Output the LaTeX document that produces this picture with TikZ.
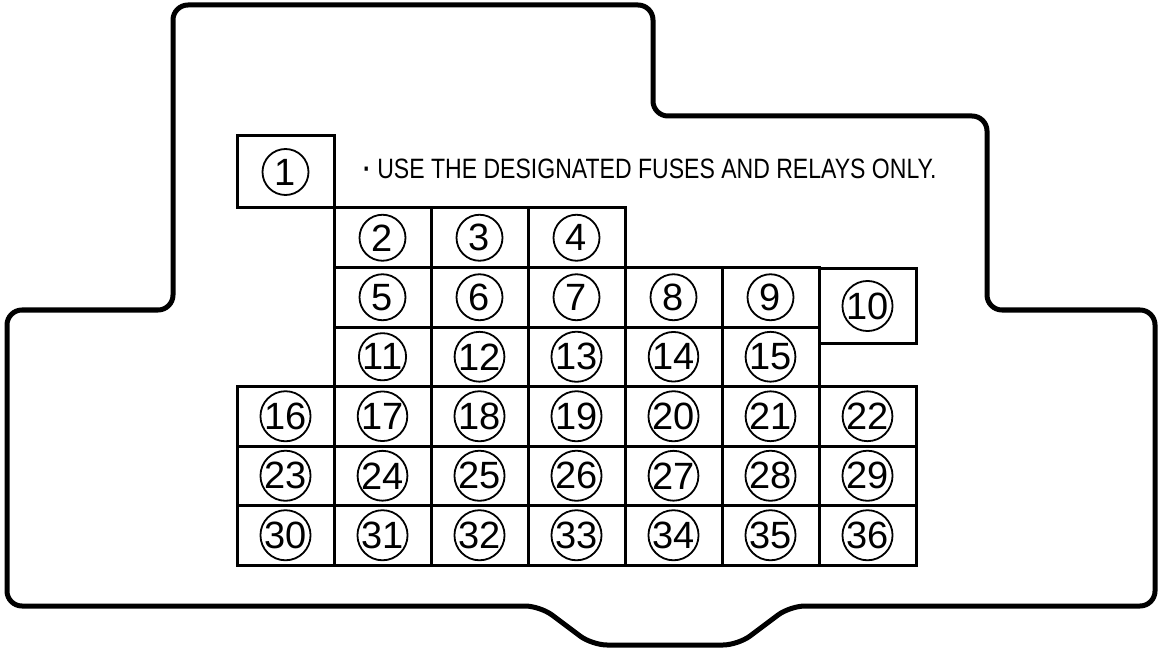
\documentclass[tikz,border=0pt]{standalone}
\usepackage{fontspec}
\usepackage{graphicx}
\setmainfont{Liberation Sans}
\begin{document}
\begin{tikzpicture}[x=1pt,y=-1pt,
  cell/.style={draw,line width=3pt,minimum width=97pt,minimum height=59.5pt,inner sep=0pt},
  fuse/.style={draw,circle,line width=1.8pt,minimum size=46pt,inner sep=0pt,font=\fontsize{38}{38}\selectfont}]
\useasboundingbox (0,0) rectangle (1159,652);
% housing
\draw[line width=5pt,rounded corners=15pt] (173,5) -- (653,5) -- (653,116) -- (987,116) -- (987,310) -- (1155,310) -- (1155,606) -- (790,606) -- (738,645) -- (592,645) -- (540,606) -- (7,606) -- (7,310) -- (173,310) -- cycle;
% single boxes
\node[cell,minimum height=72pt] (b1) at (285.5,172) {};
\node[fuse] (n1) at (b1) {1};
\node[cell,minimum height=74pt] (b10) at (867.5,306) {};
\node[fuse] (n10) at (b10) {10};
% fuse grid
\foreach \r/\first/\cfrom/\cto in {0/2/1/3,1/5/1/5,2/11/1/5,3/16/0/6,4/23/0/6,5/30/0/6}
  \foreach \c in {\cfrom,...,\cto} {
    \pgfmathtruncatemacro{\n}{\first+\c-\cfrom}
    \node[cell] (b\n) at (285.5+97*\c,237.75+59.5*\r) {};
    \node[fuse] (n\n) at (b\n) {\n};
  }
\node[anchor=base west,inner sep=0pt,font=\fontsize{28}{28}\selectfont] (note) at (363,179) {\scalebox{0.823}[1]{{\bfseries ·} USE THE DESIGNATED FUSES AND RELAYS ONLY.}};
\end{tikzpicture}
\end{document}
